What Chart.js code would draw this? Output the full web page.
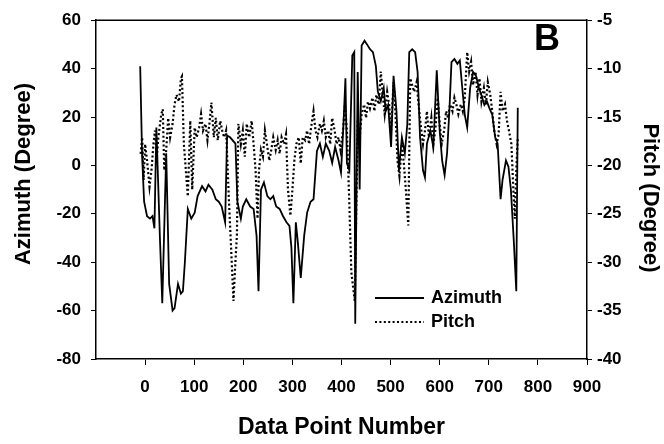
<!DOCTYPE html>
<html lang="en">
<head>
<meta charset="UTF-8">
<title>Azimuth and Pitch</title>
<script src="https://cdn.jsdelivr.net/npm/chart.js"></script>
<style>
  body { margin: 0; background: #fff; }
</style>
</head>
<body>
<canvas id="chart" width="664" height="444"></canvas>
<script>
    // values
    const azimuthX = [-10,-6,-2,4,10,15,19,23,30,35,43,49,56,60,67,73,77,81,87,94,
        101,107,116,123,129,137,144,150,156,163,167,173,184,188,195,199,206,214,221,227,
        231,236,242,249,255,261,267,274,281,288,294,298,302,307,311,317,324,330,337,343,
        350,356,362,368,375,381,387,394,399,404,408,411,416,422,426,428,433,437,441,447,
        452,458,464,470,474,480,486,490,495,501,506,512,517,523,529,534,538,544,550,555,
        560,566,570,574,581,587,594,600,605,610,615,620,624,630,636,641,646,651,656,662,
        668,674,680,685,691,696,701,707,713,718,724,728,735,740,745,751,756,759];
    const azimuthY = [41,3.5,-15,-21,-22,-21,-26,15.7,-29,-57,5,-49,-60,-59,-49,-53,-52,-40,-18,-22,
        -19.5,-12.7,-8.6,-10.7,-8,-10,-14,-15,-17,-23.5,12.3,11.6,9,-15,-22,-17,-14,-17,-18,-29,
        -52,-10,-7,-12.7,-14,-12.7,-17,-18,-21,-23.5,-25,-34,-57,-23.5,-31.6,-46.5,-29,-19.5,-15,-14,
        6,9,3.5,9,6,1,7.6,2,-3,17,36,1,-2,45.4,46.8,-65.4,38.6,-10,49.5,51.5,
        50,48,46.8,41,30.5,26.5,32,22.4,25,7.6,37,22.4,-2,11.6,5,17,46.8,48,46.8,38.6,
        11.6,-2,-5,9,14.3,7.6,39.3,14.3,2,-4,5,23.8,42.7,44,42,43.4,32,21,15.7,32,
        38.6,37,32,29,25,26.5,23.8,21,11.6,9,-14,-6,2,-0.5,-10,-31.6,-52,23.8];

    const pitchX = [-9,-6,-3,0,4,9,13,17,20,24,27,33,36,39,43,47,51,56,60,64,
        69,73,75,79,87,92,96,101,105,110,114,118,123,127,131,135,140,144,148,153,
        157,161,165,171,177,180,184,187,190,195,199,203,207,212,217,221,225,229,232,236,
        240,244,249,253,257,261,266,270,274,278,283,287,291,296,300,304,308,313,317,321,
        326,330,334,338,343,347,351,356,360,364,368,373,377,381,386,390,394,398,403,407,
        411,416,420,427,433,437,441,446,450,454,458,463,467,471,476,480,484,488,493,497,
        501,506,510,514,518,523,527,531,536,540,544,548,553,557,561,566,570,574,578,583,
        587,591,596,600,604,609,613,617,621,626,630,634,638,643,647,651,656,660,664,668,
        673,677,681,685,690,694,698,703,707,711,716,720,724,728,733,737,741,746,750,753,
        756,759];
    const pitchY = [-18.8,-17.1,-21.5,-17.8,-19.5,-22.2,-20.5,-17.8,-16.4,-19.1,
        -17.1,-14.7,-14.2,-20.5,-18.4,-15.1,-17.1,-15.7,-13.7,-12.7,
        -13.4,-11.0,-10.8,-17.8,-23.2,-15.4,-22.5,-16.1,-17.1,-16.1,
        -14.7,-16.4,-15.7,-17.4,-15.7,-13.5,-17.1,-15.1,-17.4,-15.4,
        -16.4,-17.1,-16.4,-23.9,-30.6,-34,-29.9,-27.2,-15.7,-17.8,
        -16.4,-19.1,-15.7,-17.1,-15.4,-17.8,-20.5,-25.5,-20.5,-18.4,
        -19.1,-16.4,-18.1,-19.5,-18.4,-17.1,-18.4,-17.4,-18.8,-17.1,
        -17.8,-16.8,-22.5,-25.2,-22.5,-19.5,-17.8,-17.1,-19.8,-17.1,
        -17.4,-16.4,-17.8,-16.1,-14.4,-16.4,-17.1,-15.7,-16.4,-15.4,
        -17.1,-16.4,-17.8,-15.1,-16.4,-17.8,-17.1,-18.4,-16.4,-13.7,
        -16.4,-24,-31,-34,-15.4,-17.1,-14.7,-13.7,-15.1,-13.4,
        -14.1,-13.0,-14.4,-12.7,-13.7,-10.3,-12.7,-14.7,-12.4,-13.7,
        -16.4,-11.4,-14.7,-19.5,-21.1,-17.8,-19.8,-22.5,-26.2,-11.0,
        -11.7,-12.4,-11.4,-13.7,-15.7,-17.8,-16.4,-14.4,-17.1,-15.1,
        -17.8,-16.4,-13.0,-15.7,-17.8,-16.4,-14.4,-15.1,-13.7,-14.4,
        -13.0,-13.7,-14.7,-13.7,-14.4,-13.0,-8.3,-10.3,-9.3,-11.7,
        -10.3,-12.7,-11.0,-13.4,-12.0,-13.7,-11.4,-12.7,-14.4,-16.4,
        -17.8,-16.8,-12.4,-14.4,-13.7,-15.4,-16.4,-17.8,-22.5,-25.5,
        -20.5,-17.1];

    const xTicks = [0, 100, 200, 300, 400, 500, 600, 700, 800, 900];
    const seriesNames = ['Azimuth', 'Pitch'];
    const axisTitles = ['Data Point Number', 'Azimuth (Degree)', 'Pitch (Degree)'];

    const font = 'Liberation Sans, Arial, Helvetica, sans-serif';

    // top border, side titles, panel letter and the legend inside the plot
    const extras = {
        id: 'extras',
        afterDraw(chart) {
            const ctx = chart.ctx;
            const a = chart.chartArea;
            ctx.save();
            ctx.strokeStyle = '#000';
            ctx.lineWidth = 1.5;
            ctx.beginPath();
            ctx.moveTo(a.left, a.top);
            ctx.lineTo(a.right, a.top);
            ctx.stroke();

            ctx.fillStyle = '#000';
            ctx.textAlign = 'center';
            ctx.textBaseline = 'middle';
            ctx.font = 'bold 22px ' + font;
            ctx.save();
            ctx.translate(24, 174);
            ctx.rotate(-Math.PI / 2);
            ctx.fillText(axisTitles[1], 0, 0);
            ctx.restore();
            ctx.save();
            ctx.translate(650, 198);
            ctx.rotate(Math.PI / 2);
            ctx.fillText(axisTitles[2], 0, 0);
            ctx.restore();

            ctx.font = 'bold 36px ' + font;
            ctx.textBaseline = 'alphabetic';
            ctx.fillText('B', 547, 50);

            ctx.font = 'bold 18px ' + font;
            ctx.textAlign = 'left';
            ctx.textBaseline = 'middle';
            chart.data.datasets.forEach((ds, i) => {
                const y = 298 + i * 24;
                ctx.lineWidth = ds.borderWidth;
                ctx.setLineDash(ds.borderDash || []);
                ctx.beginPath();
                ctx.moveTo(375, y);
                ctx.lineTo(424, y);
                ctx.stroke();
                ctx.setLineDash([]);
                ctx.fillText(ds.label, 431, y);
            });
            ctx.restore();
        }
    };

    new Chart(document.getElementById('chart'), {
        type: 'line',
        data: {
            datasets: [{
                label: seriesNames[0],
                data: azimuthX.map((x, i) => ({ x: x, y: azimuthY[i] })),
                yAxisID: 'y',
                borderColor: '#000',
                borderWidth: 1.8,
                pointRadius: 0,
                tension: 0
            }, {
                label: seriesNames[1],
                data: pitchX.map((x, i) => ({ x: x, y: pitchY[i] })),
                yAxisID: 'y2',
                borderColor: '#000',
                borderWidth: 2.2,
                borderDash: [2, 2.4],
                pointRadius: 0,
                tension: 0
            }]
        },
        options: {
            responsive: false,
            animation: false,
            layout: { padding: { top: 14, left: 0, right: 0, bottom: 0 } },
            plugins: {
                legend: { display: false },
                tooltip: { enabled: false }
            },
            scales: {
                x: {
                    type: 'linear',
                    min: -100,
                    max: 900,
                    afterBuildTicks: s => { s.ticks = xTicks.map(v => ({ value: v })); },
                    afterFit: s => { s.height = 85; },
                    grid: { drawOnChartArea: false, color: '#000', tickLength: 6 },
                    border: { color: '#000', width: 1.5 },
                    ticks: { color: '#000', font: { family: font, size: 17, weight: 'bold' }, padding: 12, maxRotation: 0 },
                    title: {
                        display: true, text: axisTitles[0], color: '#000',
                        font: { family: font, size: 23, weight: 'bold' },
                        padding: { top: 0, bottom: 3 }
                    }
                },
                y: {
                    position: 'left',
                    min: -80,
                    max: 60,
                    ticks: { stepSize: 20, color: '#000', font: { family: font, size: 17, weight: 'bold' }, padding: 10 },
                    afterFit: s => { s.width = 96; },
                    grid: { drawOnChartArea: false, color: '#000', tickLength: 5 },
                    border: { color: '#000', width: 1.5 }
                },
                y2: {
                    position: 'right',
                    min: -40,
                    max: -5,
                    ticks: { stepSize: 5, color: '#000', font: { family: font, size: 17, weight: 'bold' }, padding: 5 },
                    afterFit: s => { s.width = 77; },
                    grid: { drawOnChartArea: false, color: '#000', tickLength: 5 },
                    border: { color: '#000', width: 1.5 }
                }
            }
        },
        plugins: [extras]
    });
</script>
</body>
</html>
